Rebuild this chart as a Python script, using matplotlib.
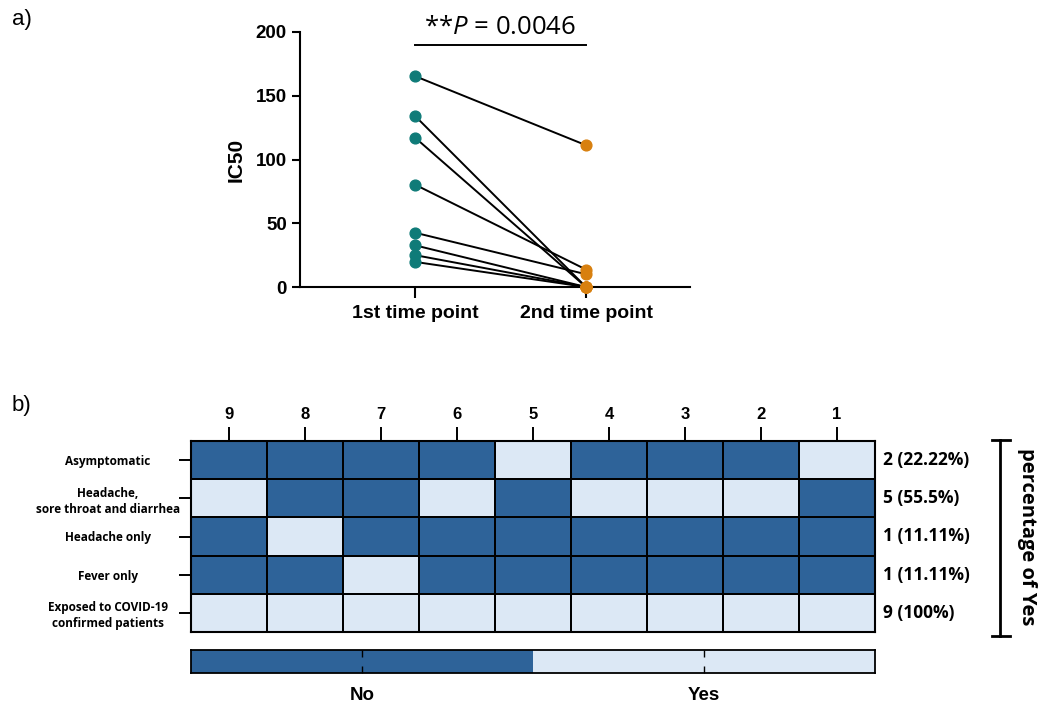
import numpy as np
import matplotlib.pyplot as plt
from matplotlib.colors import ListedColormap

# panel a data
groups = ['1st time point', '2nd time point']
ic50_first = [165.4, 134.2, 117.2, 80.3, 42.6, 32.7, 25.0, 19.7]
ic50_second = [111.2, 0.0, 0.0, 13.7, 10.0, 0.0, 0.0, 0.0]
p_text = r'**$P$ = 0.0046'

# panel b data (1 = Yes, 0 = No)
patients = ['9', '8', '7', '6', '5', '4', '3', '2', '1']
symptoms = ['Asymptomatic', 'Headache,\nsore throat and diarrhea', 'Headache only',
            'Fever only', 'Exposed to COVID-19\nconfirmed patients']
answers = [
    [0, 0, 0, 0, 1, 0, 0, 0, 1],
    [1, 0, 0, 1, 0, 1, 1, 1, 0],
    [0, 1, 0, 0, 0, 0, 0, 0, 0],
    [0, 0, 1, 0, 0, 0, 0, 0, 0],
    [1, 1, 1, 1, 1, 1, 1, 1, 1],
]
yes_counts = ['2 (22.22%)', '5 (55.5%)', '1 (11.11%)', '1 (11.11%)', '9 (100%)']
legend_labels = ['No', 'Yes']

teal = '#0f7b78'
orange = '#d8800f'
dark_blue = '#2e6399'
light_blue = '#dce8f5'

plt.rcParams['font.family'] = ['Liberation Sans', 'DejaVu Sans']
plt.rcParams['mathtext.fontset'] = 'custom'
plt.rcParams['mathtext.it'] = 'Open Sans:italic'
plt.rcParams['mathtext.rm'] = 'Open Sans'

fig = plt.figure(figsize=(10.51, 7.04), dpi=100)

# ---- panel a ----
ax = fig.add_axes([300/1051, 1-287/704, 390/1051, 255/704])
for a, b in zip(ic50_first, ic50_second):
    ax.plot([0, 1], [a, b], color='black', lw=1.4, zorder=2)
ax.scatter(np.zeros(len(ic50_first)), ic50_first, s=60, color=teal, zorder=3, clip_on=False)
ax.scatter(np.ones(len(ic50_second)), ic50_second, s=60, color=orange, zorder=3, clip_on=False)
ax.set_xlim(-115/171, 1 + 104/171)
ax.set_ylim(0, 200)
ax.set_yticks([0, 50, 100, 150, 200])
ax.set_xticks([0, 1])
ax.set_xticklabels(groups)
for s in ['top', 'right']:
    ax.spines[s].set_visible(False)
for s in ['left', 'bottom']:
    ax.spines[s].set_linewidth(1.5)
ax.tick_params(axis='y', width=1.5, length=6, labelsize=13.5)
ax.tick_params(axis='x', width=1.5, length=8, labelsize=14, pad=5)
for lab in ax.get_xticklabels() + ax.get_yticklabels():
    lab.set_fontweight('bold')
ax.set_ylabel('IC50', fontsize=15, fontweight='bold', labelpad=7)
ax.plot([0, 1], [190, 190], color='black', lw=1.4, clip_on=False)
ax.text(0.5, 194, p_text, ha='center', va='bottom', fontsize=18.5,
        family='Open Sans', clip_on=False)

fig.text(12/1051, 1-20/704, 'a)', fontsize=16, va='center')
fig.text(12/1051, 1-405/704, 'b)', fontsize=16, va='center')

# ---- panel b ----
cmap = ListedColormap([dark_blue, light_blue])
axh = fig.add_axes([191/1051, 1-632/704, 684/1051, 191/704])
axh.pcolormesh(np.array(answers), cmap=cmap, vmin=0, vmax=1,
               edgecolors='black', linewidth=1.3)
axh.set_xlim(0, len(patients))
axh.set_ylim(len(symptoms), 0)
axh.set_xticks(np.arange(len(patients)) + 0.5)
axh.set_xticklabels(patients)
axh.xaxis.tick_top()
axh.set_yticks(np.arange(len(symptoms)) + 0.5)
axh.set_yticklabels(symptoms, ha='center', fontsize=8.5, family='Open Sans',
                    fontweight='bold', linespacing=1.3)
axh.tick_params(axis='y', length=9, width=1.4, pad=51)
axh.tick_params(axis='x', length=10, width=1.4, labelsize=12, pad=4)
for lab in axh.get_xticklabels():
    lab.set_fontweight('bold')
for s in axh.spines.values():
    s.set_linewidth(1.5)

for i, t in enumerate(yes_counts):
    axh.text(len(patients) + 0.1, i + 0.5, t, ha='left', va='center',
             fontsize=12.5, fontweight='bold', family='Open Sans', clip_on=False)

# bracket
bx = 1000/1051
fig.add_artist(plt.Line2D([bx, bx], [1-440/704, 1-636/704], color='black', lw=2))
fig.add_artist(plt.Line2D([992/1051, 1010/1051], [1-440/704, 1-440/704], color='black', lw=2))
fig.add_artist(plt.Line2D([992/1051, 1010/1051], [1-636/704, 1-636/704], color='black', lw=2))
fig.text(1027/1051, 1-537/704, 'percentage of Yes', rotation=270, ha='center', va='center',
         fontsize=14.5, fontweight='bold', family='Open Sans')

# legend bar
axc = fig.add_axes([191/1051, 1-673/704, 684/1051, 23/704])
axc.pcolormesh(np.array([[0, 1]]), cmap=cmap, vmin=0, vmax=1)
axc.set_xlim(0, 2)
axc.set_ylim(0, 1)
axc.set_xticks([0.5, 1.5])
axc.set_xticklabels(legend_labels)
axc.set_yticks([])
axc.tick_params(axis='x', direction='in', top=True, length=5, width=1, labelsize=13.5, pad=10)
for lab in axc.get_xticklabels():
    lab.set_fontweight('bold')
for s in axc.spines.values():
    s.set_linewidth(1.3)

fig.savefig('out.png', dpi=100)
